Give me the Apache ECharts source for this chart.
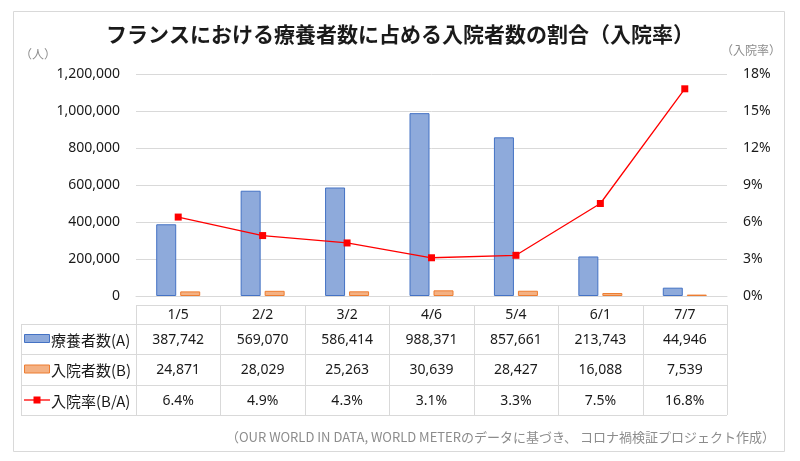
<!DOCTYPE html>
<html><head><meta charset="utf-8">
<script src="https://cdn.jsdelivr.net/npm/echarts@6/dist/echarts.min.js"></script>
<style>html,body{margin:0;padding:0;background:#fff}#c{width:800px;height:461px}</style>
</head><body><div id="c"></div>
<script>
const categories = ['1/5','2/2','3/2','4/6','5/4','6/1','7/7'];
const patients = [387742, 569070, 586414, 988371, 857661, 213743, 44946];
const hospitalized = [24871, 28029, 25263, 30639, 28427, 16088, 7539];
const rate = [6.4, 4.9, 4.3, 3.1, 3.3, 7.5, 16.8];
const seriesNames = ['療養者数(A)', '入院者数(B)', '入院率(B/A)'];
const titleText = 'フランスにおける療養者数に占める入院者数の割合（入院率）';
const sourceText = '（OUR WORLD IN DATA, WORLD METERのデータに基づき、 コロナ禍検証プロジェクト作成）';

const FONT = '"Noto Sans", "Noto Sans CJK JP", sans-serif';
const JFONT = '"Noto Sans CJK JP", "Noto Sans", sans-serif';
const chart = echarts.init(document.getElementById('c'));
const G = {left: 136, right: 73, top: 74, bottom: 165};

chart.setOption({
  animation: false,
  backgroundColor: '#fff',
  title: {
    text: titleText, left: 'center', top: 19,
    textStyle: {fontFamily: JFONT, fontSize: 21, fontWeight: 'bold', color: '#1a1a1a'}
  },
  grid: G,
  xAxis: {
    type: 'category', data: categories,
    axisLine: {lineStyle: {color: '#d9d9d9'}}, axisTick: {show: false}, axisLabel: {show: false}
  },
  yAxis: [{
    type: 'value', min: 0, max: 1200000, interval: 200000,
    name: '（人）', nameLocation: 'end', nameGap: 14,
    nameTextStyle: {fontFamily: JFONT, fontSize: 12, color: '#8c8c8c', align: 'right', padding: [0, 80, 0, 0]},
    axisLabel: {fontFamily: FONT, fontSize: 14, color: '#1a1a1a', margin: 16,
      formatter: v => v.toLocaleString('en-US')},
    splitLine: {lineStyle: {color: '#d9d9d9', width: 1}}
  }, {
    type: 'value', min: 0, max: 18, interval: 3,
    name: '（入院率）', nameLocation: 'end', nameGap: 18,
    nameTextStyle: {fontFamily: JFONT, fontSize: 12, color: '#8c8c8c', align: 'left', padding: [0, 0, 0, -6]},
    axisLabel: {fontFamily: FONT, fontSize: 14, color: '#1a1a1a', margin: 16, formatter: '{value}%'},
    splitLine: {show: false}
  }],
  series: [{
    name: seriesNames[0], type: 'bar', data: patients, barWidth: 20, barGap: '20%',
    itemStyle: {color: '#8eaadb', borderColor: '#4472c4', borderWidth: 1}
  }, {
    name: seriesNames[1], type: 'bar', data: hospitalized, barWidth: 20,
    itemStyle: {color: '#f4b183', borderColor: '#ed7d31', borderWidth: 1}
  }, {
    name: seriesNames[2], type: 'line', yAxisIndex: 1, data: rate,
    symbol: 'rect', symbolSize: 7,
    lineStyle: {color: '#ff0000', width: 1.3}, itemStyle: {color: '#ff0000'}
  }]
});

// Data table below the plot
const fmt = v => v.toLocaleString('en-US');
const rows = [patients.map(fmt), hospitalized.map(fmt), rate.map(v => v.toFixed(1) + '%')];
const x0 = chart.convertToPixel({xAxisIndex: 0}, 0);
const x1 = chart.convertToPixel({xAxisIndex: 0}, 1);
const cw = x1 - x0;
const tLeft = x0 - cw / 2;
const tRight = tLeft + cw * categories.length;
const legLeft = 21;
const rowY = [305, 324, 354, 385, 415];
const lineC = '#d9d9d9';
const g = [];
g.push({type: 'rect', shape: {x: 13.5, y: 11.5, width: 771, height: 440}, style: {fill: null, stroke: '#d9d9d9', lineWidth: 1}, silent: true});
g.push({type: 'line', shape: {x1: tLeft, y1: rowY[0] + 0.5, x2: tRight, y2: rowY[0] + 0.5}, style: {stroke: lineC, lineWidth: 1}});
for (let r = 1; r < rowY.length; r++) {
  g.push({type: 'line', shape: {x1: legLeft, y1: rowY[r] + 0.5, x2: tRight, y2: rowY[r] + 0.5}, style: {stroke: lineC, lineWidth: 1}});
}
g.push({type: 'line', shape: {x1: legLeft + 0.5, y1: rowY[1], x2: legLeft + 0.5, y2: rowY[4]}, style: {stroke: lineC, lineWidth: 1}});
for (let i = 0; i <= categories.length; i++) {
  const x = Math.round(tLeft + cw * i) + 0.5;
  g.push({type: 'line', shape: {x1: x, y1: rowY[0], x2: x, y2: rowY[4]}, style: {stroke: lineC, lineWidth: 1}});
}
categories.forEach((c, i) => {
  g.push({type: 'text', x: tLeft + cw * (i + 0.5), y: (rowY[0] + rowY[1]) / 2 + 1,
    style: {text: c, fontFamily: FONT, fontSize: 14, fill: '#1a1a1a', align: 'center', verticalAlign: 'middle'}});
});
rows.forEach((row, r) => {
  const cy = (rowY[r + 1] + rowY[r + 2]) / 2 + 1;
  row.forEach((t, i) => {
    g.push({type: 'text', x: tLeft + cw * (i + 0.5), y: cy,
      style: {text: t, fontFamily: FONT, fontSize: 14, fill: '#1a1a1a', align: 'center', verticalAlign: 'middle'}});
  });
  g.push({type: 'text', x: 51, y: cy,
    style: {text: seriesNames[r], fontFamily: JFONT, fontSize: 15, fill: '#1a1a1a', align: 'left', verticalAlign: 'middle'}});
});
const ly = r => (rowY[r + 1] + rowY[r + 2]) / 2;
g.push({type: 'rect', shape: {x: 24.5, y: ly(0) - 4.5, width: 25, height: 8}, style: {fill: '#8eaadb', stroke: '#4472c4', lineWidth: 1}});
g.push({type: 'rect', shape: {x: 24.5, y: ly(1) - 4.5, width: 25, height: 8}, style: {fill: '#f4b183', stroke: '#ed7d31', lineWidth: 1}});
g.push({type: 'line', shape: {x1: 24, y1: ly(2), x2: 50, y2: ly(2)}, style: {stroke: '#ff0000', lineWidth: 1.3}});
g.push({type: 'rect', shape: {x: 33.5, y: ly(2) - 3.5, width: 7, height: 7}, style: {fill: '#ff0000'}});
g.push({type: 'text', x: 775, y: 437,
  style: {text: sourceText, fontFamily: JFONT, fontSize: 13, fill: '#8c8c8c', align: 'right', verticalAlign: 'middle'}});

chart.setOption({graphic: g});
</script>
</body></html>
